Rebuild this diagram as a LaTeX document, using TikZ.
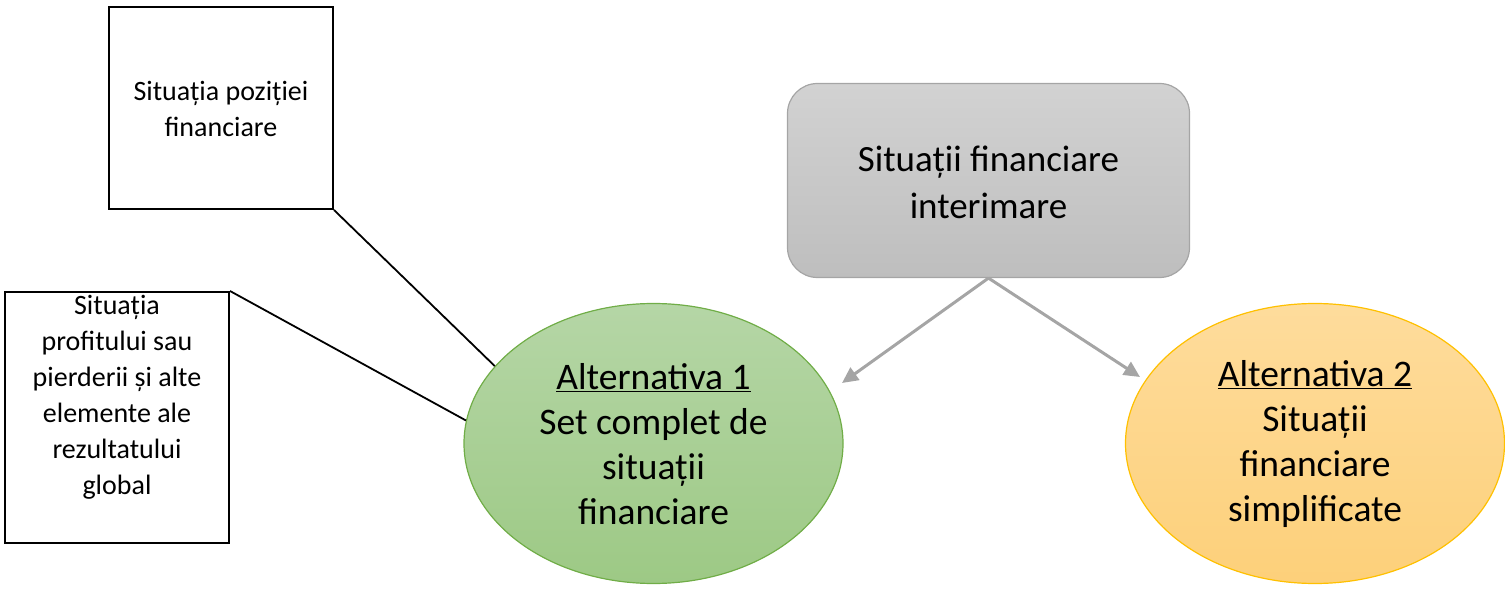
\documentclass[tikz,border=0pt]{standalone}
\usepackage{fontspec}
\setmainfont{Carlito}
\usetikzlibrary{arrows.meta,shapes.geometric}
\definecolor{grayTop}{HTML}{D2D2D2}
\definecolor{grayBot}{HTML}{BEBEBE}
\definecolor{grayLine}{HTML}{A5A5A5}
\definecolor{greenTop}{HTML}{B5D6A6}
\definecolor{greenBot}{HTML}{9DC985}
\definecolor{greenLine}{HTML}{70AD47}
\definecolor{orangeTop}{HTML}{FEDC9C}
\definecolor{orangeBot}{HTML}{FDD07A}
\definecolor{orangeLine}{HTML}{FFC000}
\tikzset{
  sqbox/.style={draw=black, line width=2pt, fill=white, minimum width=224pt, inner sep=0pt},
  boxtext/.style={align=center, font=\fontsize{28}{36}\selectfont, inner sep=0pt},
  bigtext/.style={align=center, font=\fontsize{37.5}{45}\selectfont},
  ell/.style={ellipse, minimum width=379pt, minimum height=280pt, inner sep=0pt, line width=1.2pt},
  greenell/.style={ell, draw=greenLine, top color=greenTop, bottom color=greenBot},
  orangeell/.style={ell, draw=orangeLine, top color=orangeTop, bottom color=orangeBot},
  graybox/.style={draw=grayLine, line width=1.2pt, rounded corners=30pt, top color=grayTop, bottom color=grayBot, minimum width=402pt, minimum height=194pt, inner sep=0pt},
  link/.style={draw=black, line width=1.8pt},
  arr/.style={draw=grayLine, line width=3pt, -{Triangle[length=16pt,width=15pt]}}
}
\begin{document}
\begin{tikzpicture}[x=1pt,y=-1pt]
\useasboundingbox (0,0) rectangle (1505,596);
% boxes
\node[sqbox, minimum height=202pt] (b1) at (221,108) {};
\node[boxtext] (t1) at (221,109) {Situația poziției\\financiare};
\node[sqbox, minimum height=251pt] (b2) at (117,417.5) {};
\node[boxtext, anchor=north] (t2) at (117,295) {Situația\\profitului sau\\pierderii și alte\\elemente ale\\rezultatului\\global};
% gray box
\node[graybox] (g) at (988.5,180.5) {};
\node[bigtext, font=\fontsize{37}{47}\selectfont] (gt) at (988.5,182) {Situații financiare\\interimare};
% ellipses
\node[greenell] (e1) at (653.5,443.5) {};
\node[bigtext] (e1t) at (653.5,444) {\underline{Alternativa 1}\\Set complet de\\situații\\financiare};
\node[orangeell] (e2) at (1315,443.5) {};
\node[bigtext] (e2t) at (1315,444) {\underline{Alternativa 2}\\Situații\\financiare\\simplificate};
% connectors
\draw[link] (b1.south east) -- (e1.154);
\draw[link] (b2.north east) -- (e1.173);
\coordinate (a1) at (842,383);
\coordinate (a2) at (1140,377);
\draw[arr] (g.south) -- (a1);
\draw[arr] (g.south) -- (a2);
\end{tikzpicture}
\end{document}
